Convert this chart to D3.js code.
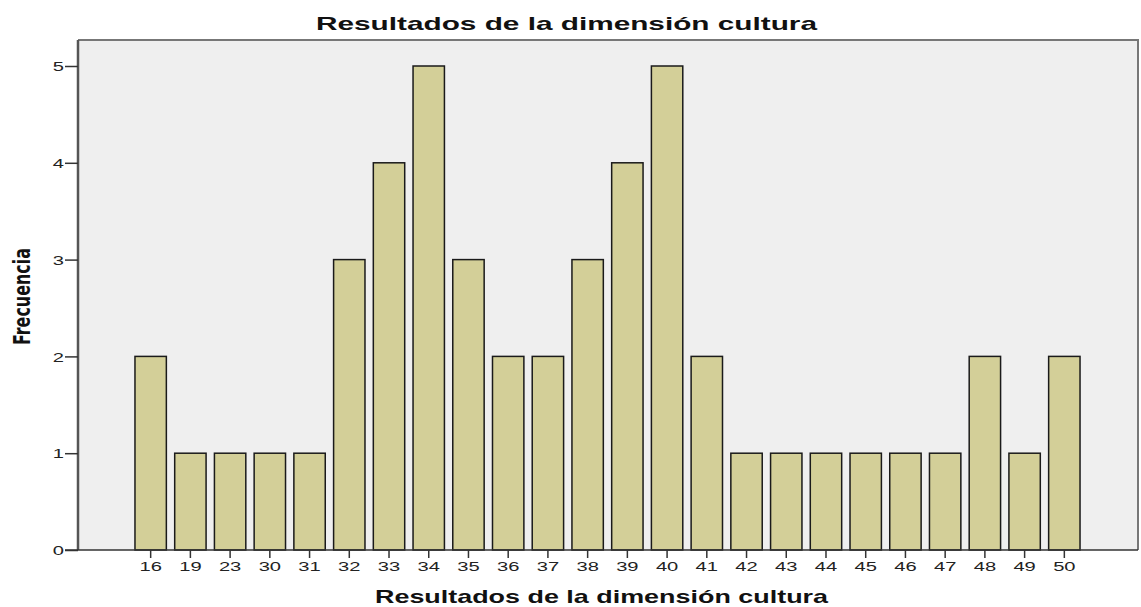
<!DOCTYPE html>
<html>
<head>
<meta charset="utf-8">
<script src="https://cdn.jsdelivr.net/npm/d3@7"></script>
<style>
  body { margin: 0; background: #fff; }
  svg text { font-family: "Liberation Sans", Arial, sans-serif; }
</style>
</head>
<body>
<div id="chart"></div>
<script>
// valores
let categorias = ["16","19","23","30","31","32","33","34","35","36","37","38","39","40","41","42","43","44","45","46","47","48","49","50"];
let frecuencias = [2,1,1,1,1,3,4,5,3,2,2,3,4,5,2,1,1,1,1,1,1,2,1,2];
let yTicks = [0,1,2,3,4,5];

let width = 1141, height = 607;
let plot = {left: 78, right: 1138, top: 40, bottom: 550};
let stretch = 1.55; // el original esta estirado a lo ancho

let svg = d3.select("#chart").append("svg")
    .attr("width", width)
    .attr("height", height);

let x = d3.scaleBand().domain(categorias).range([131, 1084]).paddingInner(0.21).paddingOuter(0.1);
let y = d3.scaleLinear().domain([0, 5]).range([plot.bottom, 66]);

// fondo del area
svg.append("rect")
    .attr("x", plot.left).attr("y", plot.top)
    .attr("width", plot.right - plot.left).attr("height", plot.bottom - plot.top)
    .attr("fill", "#efefef");

svg.append("path")
    .attr("d", "M" + plot.left + "," + plot.top + "H" + plot.right + "V" + plot.bottom)
    .attr("fill", "none").attr("stroke", "#777").attr("stroke-width", 2);

svg.selectAll(".bar").data(frecuencias).enter().append("rect")
    .attr("class", "bar")
    .attr("x", function(d, i){ return x(categorias[i]); })
    .attr("y", function(d){ return y(d); })
    .attr("width", x.bandwidth())
    .attr("height", function(d){ return y(0) - y(d); })
    .attr("fill", "#d3cf98")
    .attr("stroke", "#1a1a1a")
    .attr("stroke-width", 1.5);

// eje y
let yAxis = svg.append("g")
    .attr("transform", "translate(" + plot.left + ",0)")
    .call(d3.axisLeft(y).tickValues(yTicks).tickSize(13).tickFormat(d3.format("d")));
yAxis.select(".domain").attr("stroke", "#555").attr("stroke-width", 2.5)
    .attr("d", "M0," + plot.top + "V" + plot.bottom);
yAxis.selectAll(".tick line").attr("stroke", "#333").attr("stroke-width", 1.5);
yAxis.selectAll("text").attr("font-size", 13).attr("fill", "#222")
    .attr("x", -14 / stretch).attr("dy", "0.36em")
    .attr("transform", "scale(" + stretch + ",1)");

// eje x
let xAxis = svg.append("g")
    .attr("transform", "translate(0," + plot.bottom + ")")
    .call(d3.axisBottom(x).tickSize(8).tickPadding(4));
xAxis.select(".domain").attr("stroke", "#333").attr("stroke-width", 1.5)
    .attr("d", "M" + (plot.left - 13) + ",0H" + plot.right);
xAxis.selectAll(".tick line").attr("stroke", "#333").attr("stroke-width", 1.5);
xAxis.selectAll("text").attr("font-size", 13).attr("fill", "#222")
    .attr("transform", "scale(" + stretch + ",1)");

svg.append("text")
    .text("Resultados de la dimensión cultura")
    .attr("x", 316)
    .attr("y", 30)
    .attr("textLength", 501)
    .attr("lengthAdjust", "spacingAndGlyphs")
    .attr("font-size", 19)
    .attr("font-weight", "bold")
    .attr("fill", "#111");

svg.append("text")
    .text("Resultados de la dimensión cultura")
    .attr("x", 375)
    .attr("y", 603)
    .attr("textLength", 453)
    .attr("lengthAdjust", "spacingAndGlyphs")
    .attr("font-size", 19)
    .attr("font-weight", "bold")
    .attr("fill", "#111");

svg.append("text")
    .text("Frecuencia")
    .attr("transform", "translate(30,345) rotate(-90)")
    .attr("textLength", 97)
    .attr("lengthAdjust", "spacingAndGlyphs")
    .attr("font-size", 23)
    .attr("font-weight", "bold")
    .style("font-family", "'Liberation Sans Narrow', 'DejaVu Sans Condensed', sans-serif")
    .attr("fill", "#111");
</script>
</body>
</html>
